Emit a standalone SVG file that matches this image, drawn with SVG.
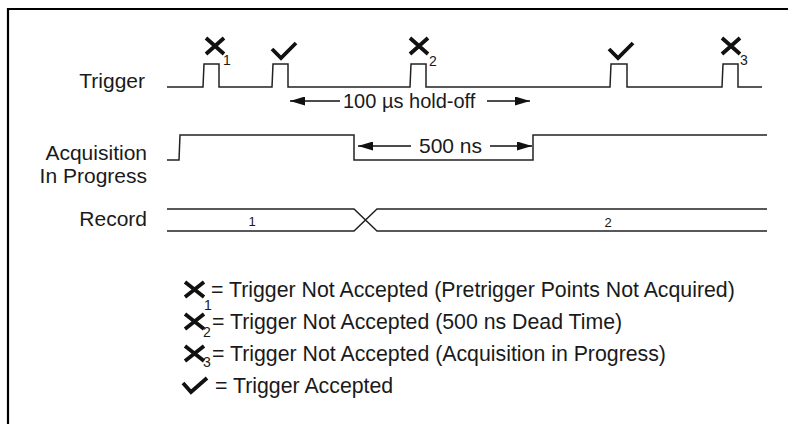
<svg xmlns="http://www.w3.org/2000/svg" width="788" height="424" viewBox="0 0 788 424">
<defs>
<style>
.lbl{font-family:"Liberation Sans",Arial,sans-serif;font-size:21px;fill:#1a1a1a}
.leg{font-family:"Liberation Sans",Arial,sans-serif;font-size:21.3px;fill:#1a1a1a}
.sm{font-family:"Liberation Sans",Arial,sans-serif;font-size:14px;fill:#1a1a1a}
.num{font-family:"Liberation Sans",Arial,sans-serif;font-size:13px;fill:#1a1a1a}
.wave{fill:none;stroke:#222;stroke-width:1.5}
.mark{fill:none;stroke:#111;stroke-width:3.8;stroke-linejoin:miter}
.arr{fill:none;stroke:#111;stroke-width:1.5}
</style>
<marker id="ah" markerWidth="16" markerHeight="9" refX="15" refY="4.5" orient="auto" markerUnits="userSpaceOnUse">
<path d="M0,0 L15,4.5 L0,9 Z" fill="#111"/>
</marker>
</defs>
<rect width="788" height="424" fill="#fff"/>
<path d="M8,424 V9 H788" fill="none" stroke="#000" stroke-width="2.2"/>

<g id="labels">
<text class="lbl" x="145" y="88" text-anchor="end">Trigger</text>
<text class="lbl" x="147" y="160" text-anchor="end">Acquisition</text>
<text class="lbl" x="147" y="183" text-anchor="end">In Progress</text>
<text class="lbl" x="147" y="226" text-anchor="end">Record</text>
</g>

<g id="trigger-wave">
<path class="wave" d="M167,87 H203 L204,64 H219 V87 H272 L273,64 H288 V87 H410 L411,64 H426 V87 H610 L611,64 H627 V87 H722 L723,64 H738 V87 H762"/>
</g>

<g id="trigger-marks">
<path class="mark" d="M206,38 L224,54 M224,38 L206,54"/>
<text class="sm" x="223" y="65">1</text>
<path class="mark" d="M272,49 L281,58 L296,43"/>
<path class="mark" d="M410,38 L428,54 M428,38 L410,54"/>
<text class="sm" x="429" y="66">2</text>
<path class="mark" d="M609,49 L618,58 L633,43"/>
<path class="mark" d="M722,38 L740,54 M740,38 L722,54"/>
<text class="sm" x="740" y="65">3</text>
</g>

<g id="acq-wave">
<path class="wave" d="M167,160 H179 L180,135 H354 V160 H533 V135 H767"/>
</g>

<g id="record-wave">
<path class="wave" d="M167,209 H354 L377,231 H767 M167,231 H354 L377,209 H767"/>
<text class="num" x="252" y="226" text-anchor="middle">1</text>
<text class="num" x="608" y="227" text-anchor="middle">2</text>
</g>

<g id="connectors">
<path class="arr" d="M340,101 H290" marker-end="url(#ah)"/>
<path class="arr" d="M487,101 H530" marker-end="url(#ah)"/>
<path class="arr" d="M411,146 H358" marker-end="url(#ah)"/>
<path class="arr" d="M490,146 H532" marker-end="url(#ah)"/>
</g>
<g id="dim-labels">
<text class="lbl" x="343" y="108" style="font-size:20px">100 µs hold-off</text>
<text class="lbl" x="419" y="153">500 ns</text>
</g>

<g id="legend">
<path class="mark" d="M185,282 L204,297 M204,282 L185,297"/>
<text class="sm" x="204" y="310">1</text>
<text class="leg" x="211" y="297">= Trigger Not Accepted (Pretrigger Points Not Acquired)</text>
<path class="mark" d="M185,314 L204,329 M204,314 L185,329"/>
<text class="sm" x="203" y="337">2</text>
<text class="leg" x="212" y="329">= Trigger Not Accepted (500 ns Dead Time)</text>
<path class="mark" d="M185,346 L204,361 M204,346 L185,361"/>
<text class="sm" x="203" y="367">3</text>
<text class="leg" x="212" y="361">= Trigger Not Accepted (Acquisition in Progress)</text>
<path class="mark" d="M183,383 L191,392 L207,378"/>
<text class="leg" x="215" y="393">= Trigger Accepted</text>
</g>
</svg>
